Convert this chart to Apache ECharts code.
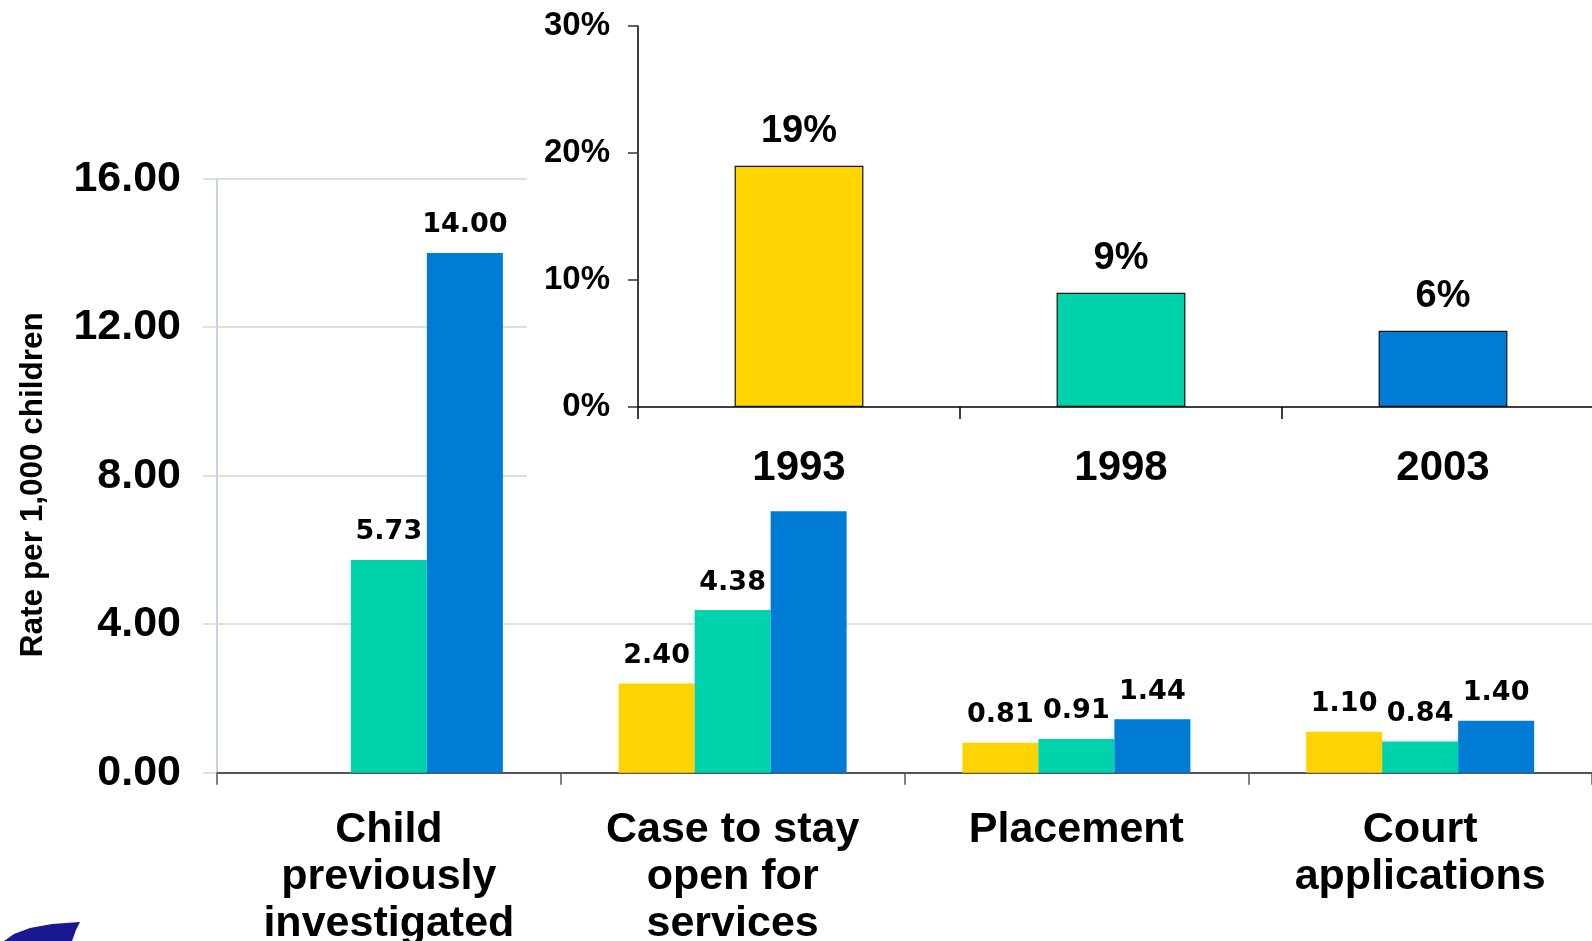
<!DOCTYPE html>
<html>
<head>
<meta charset="utf-8">
<script src="https://cdn.jsdelivr.net/npm/echarts@6/dist/echarts.min.js"></script>
<style>
html,body{margin:0;padding:0;background:#fff;overflow:hidden;width:1592px;height:941px;}
#c{width:1604px;height:941px;}
</style>
</head>
<body>
<div id="c"></div>
<script>
// Main chart data (rate per 1,000 children)
const categories = ['Child\npreviously\ninvestigated', 'Case to stay\nopen for\nservices', 'Placement', 'Court\napplications'];
const rate1993 = [null, 2.40, 0.81, 1.10];
const rate1998 = [5.73, 4.38, 0.91, 0.84];
const rate2003 = [14.00, 7.04, 1.44, 1.40];
const rateTicks = [0, 4, 8, 12, 16];

// Inset chart data (percent)
const years = ['1993', '1998', '2003'];
const pctValues = [19, 9, 6];
const pctTicks = [0, 10, 20, 30];

const YELLOW = '#FFD400', TEAL = '#00D3AB', BLUE = '#007BD6';
const ARIAL = "'Liberation Sans', Arial, sans-serif";
const VERD = "'DejaVu Sans', Verdana, sans-serif";

// label of 2003 "Case to stay open" bar is covered by the inset in the original
const hiddenLabels = {2003: [1]};

function mkData(arr, yr) {
  return arr.map((v, i) => {
    if ((hiddenLabels[yr] || []).includes(i)) return {value: v, label: {show: false}};
    return v;
  });
}

const mainLabel = {
  show: true, position: 'top', distance: 14,
  fontFamily: VERD, fontWeight: 'bold', fontSize: 27, color: '#000',
  formatter: p => (p.value == null ? '' : Number(p.value).toFixed(2))
};

const chart = echarts.init(document.getElementById('c'), null, {renderer: 'canvas'});
chart.setOption({
  backgroundColor: '#ffffff',
  animation: false,
  grid: [
    {left: 217, right: 12, top: 178.7, bottom: 168.3, containLabel: false, outerBoundsMode: 'none'},
    {left: 638, right: 0, top: 26, bottom: 534, containLabel: false, outerBoundsMode: 'none'}
  ],
  xAxis: [
    {
      type: 'category', gridIndex: 0, data: categories,
      axisLine: {lineStyle: {color: '#555', width: 2}},
      axisTick: {show: true, length: 12, lineStyle: {color: '#555', width: 1.5}},
      axisLabel: {fontFamily: ARIAL, fontWeight: 'bold', fontSize: 43, lineHeight: 47, color: '#000', margin: 34, interval: 0}
    },
    {
      type: 'category', gridIndex: 1, data: years, z: 10,
      axisLine: {lineStyle: {color: '#000', width: 1.5}},
      axisTick: {show: true, length: 12, lineStyle: {color: '#000', width: 1.5}},
      axisLabel: {fontFamily: ARIAL, fontWeight: 'bold', fontSize: 42, lineHeight: 48, color: '#000', margin: 37}
    }
  ],
  yAxis: [
    {
      type: 'value', gridIndex: 0, min: rateTicks[0], max: rateTicks[rateTicks.length - 1], interval: 4,
      name: 'Rate per 1,000 children', nameLocation: 'middle', nameRotate: 90, nameGap: 168,
      nameTextStyle: {fontFamily: ARIAL, fontWeight: 'bold', fontSize: 31.5, color: '#000', padding: [0, 18, 0, 0]},
      axisLine: {show: true, lineStyle: {color: '#c3d4e8', width: 2}},
      axisTick: {show: true, length: 14, lineStyle: {color: '#cfd8e2', width: 1.5}},
      splitLine: {show: true, lineStyle: {color: '#d4d4d4', width: 1.5}},
      axisLabel: {fontFamily: ARIAL, fontWeight: 'bold', fontSize: 43, color: '#000', margin: 36,
        formatter: v => Number(v).toFixed(2)}
    },
    {
      type: 'value', gridIndex: 1, min: pctTicks[0], max: pctTicks[pctTicks.length - 1], interval: 10, z: 10,
      axisLine: {show: true, lineStyle: {color: '#000', width: 1.5}},
      axisTick: {show: true, length: 10, lineStyle: {color: '#333', width: 1.5}},
      splitLine: {show: false},
      axisLabel: {fontFamily: ARIAL, fontWeight: 'bold', fontSize: 33, color: '#000', margin: 28,
        formatter: '{value}%'}
    }
  ],
  graphic: [
    {type: 'rect', z: 5, shape: {x: 527, y: 0, width: 1100, height: 497}, style: {fill: '#ffffff'}, silent: true},
    {type: 'polygon', z: 6, shape: {points: [[4, 941], [14, 934], [30, 928], [52, 924], [80, 922], [76, 930], [72, 941]]},
      style: {fill: '#18198f'}, silent: true}
  ],
  series: [
    {name: '1993', type: 'bar', xAxisIndex: 0, yAxisIndex: 0, data: mkData(rate1993, 1993),
      barWidth: 76, barGap: '0%', itemStyle: {color: YELLOW}, label: mainLabel},
    {name: '1998', type: 'bar', xAxisIndex: 0, yAxisIndex: 0, data: mkData(rate1998, 1998),
      barWidth: 76, barGap: '0%', itemStyle: {color: TEAL}, label: mainLabel},
    {name: '2003', type: 'bar', xAxisIndex: 0, yAxisIndex: 0, data: mkData(rate2003, 2003),
      barWidth: 76, barGap: '0%', itemStyle: {color: BLUE}, label: mainLabel},
    {name: 'Inset', type: 'bar', xAxisIndex: 1, yAxisIndex: 1, z: 10, barWidth: '40%',
      data: pctValues.map((v, i) => ({value: v, itemStyle: {color: [YELLOW, TEAL, BLUE][i]}})),
      itemStyle: {borderColor: '#111', borderWidth: 1.2},
      label: {show: true, position: 'top', distance: 15, fontFamily: ARIAL, fontWeight: 'bold', fontSize: 38, color: '#000',
        formatter: '{c}%'}}
  ]
});
</script>
</body>
</html>
